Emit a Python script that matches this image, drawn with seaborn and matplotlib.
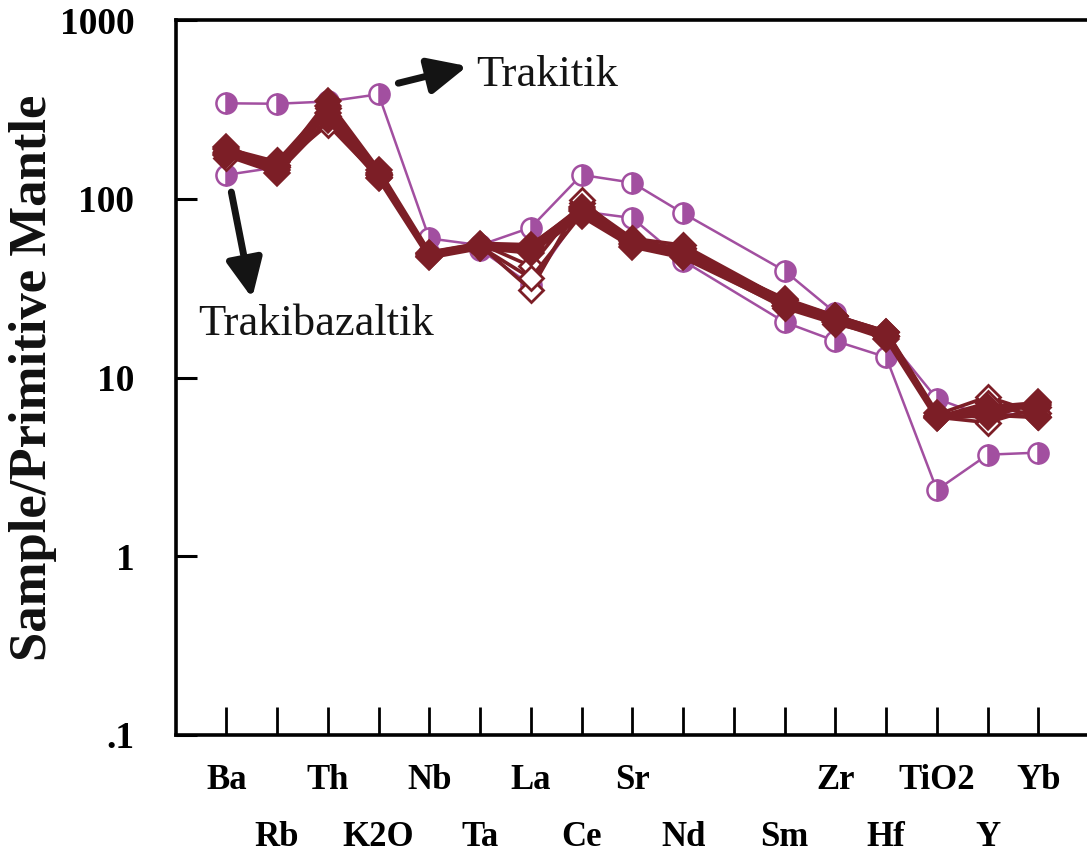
import matplotlib
matplotlib.use("Agg")
import matplotlib.pyplot as plt
import matplotlib.ticker as mticker
import seaborn as sns
import pandas as pd

# ---------------- data ----------------
categories = ["Ba", "Rb", "Th", "K2O", "Nb", "Ta", "La", "Ce", "Sr", "Nd",
              "P", "Sm", "Zr", "Hf", "TiO2", "Y", "Yb"]
tick_labels = ["Ba", "Rb", "Th", "K2O", "Nb", "Ta", "La", "Ce", "Sr", "Nd",
               "", "Sm", "Zr", "Hf", "TiO2", "Y", "Yb"]
measured = ["Ba", "Rb", "Th", "K2O", "Nb", "Ta", "La", "Ce", "Sr", "Nd",
            "Sm", "Zr", "Hf", "TiO2", "Y", "Yb"]

# Trakitik samples (purple, half-filled circles)
trakitik_1 = [342, 340, 350, 384, 60, 55, 69, 136, 123, 83, 39.5, 23, 17, 7.6, 6.0, 6.5]
trakitik_2 = [136, 150, 300, 135, 50, 52, 33, 85, 78, 45, 20.4, 16, 13, 2.35, 3.7, 3.8]

# Trakibazaltik samples (dark red diamonds)
trakibazalt_1 = [190, 160, 330, 140, 49, 55, 54, 90, 58, 52, 27, 22, 18, 6.0, 6.8, 7.2]
trakibazalt_2 = [180, 145, 300, 135, 48, 54, 52, 85, 56, 50, 26, 21, 17, 6.1, 6.5, 7.0]
trakibazalt_3 = [175, 140, 275, 130, 47, 53, 50, 80, 54, 47, 25, 20.5, 16.5, 5.9, 6.2, 6.0]
trakibazalt_4 = [185, 155, 320, 138, 50, 56, 42, 95, 60, 55, 27, 22, 18, 6.2, 7.8, 6.3]
trakibazalt_5 = [178, 150, 260, 132, 48, 55, 31, 98, 57, 53, 26, 21, 17, 6.0, 7.2, 6.0]
trakibazalt_6 = [195, 150, 350, 145, 50, 56, 55, 88, 59, 50, 27.5, 22, 18, 6.3, 6.0, 7.3]
trakibazalt_7 = [170, 165, 290, 136, 49, 54, 36, 82, 55, 48, 24.5, 20, 17, 6.0, 5.6, 6.8]

trakitik = [trakitik_1, trakitik_2]
trakibazalt_filled = [trakibazalt_1, trakibazalt_2, trakibazalt_3, trakibazalt_6]
trakibazalt_open = [trakibazalt_4, trakibazalt_5, trakibazalt_7]

yticks = [0.1, 1, 10, 100, 1000]
ytick_labels = [".1", "1", "10", "100", "1000"]

PURPLE = "#A24FA0"
DARKRED = "#7C1E26"

# ---------------- figure ----------------
sns.set_style("white")
plt.rcParams["font.family"] = ["Liberation Serif", "DejaVu Serif"]

fig = plt.figure(figsize=(10.87, 8.57), dpi=100)
ax = fig.add_axes([176 / 1087, 122 / 857, (1087 - 176) / 1087 + 0.002, (735 - 20) / 857])

xpos = [categories.index(e) for e in measured]


def draw(values, **kw):
    df = pd.DataFrame({"x": xpos, "y": values})
    sns.lineplot(data=df, x="x", y="y", ax=ax, estimator=None, sort=False, **kw)


for vals in trakitik:
    draw(vals, color=PURPLE, lw=1.8, marker="o", markersize=14.5,
         markerfacecolor=PURPLE, markerfacecoloralt="white", fillstyle="right",
         markeredgecolor=PURPLE, markeredgewidth=1.8, zorder=2)

for vals in trakibazalt_open:
    draw(vals, color=DARKRED, lw=2.6, marker="D", markersize=12,
         markerfacecolor="white", markeredgecolor=DARKRED, markeredgewidth=2.0, zorder=3)

for vals in trakibazalt_filled:
    draw(vals, color=DARKRED, lw=3.2, marker="D", markersize=13,
         markerfacecolor=DARKRED, markeredgecolor=DARKRED, markeredgewidth=1.2, zorder=4)

ax.set_yscale("log")
ax.set_ylim(0.1, 1000)
ax.set_xlim(-0.99, 17.0)

ax.yaxis.set_major_locator(mticker.FixedLocator(yticks))
ax.yaxis.set_major_formatter(mticker.FixedFormatter(ytick_labels))
ax.yaxis.set_minor_locator(mticker.NullLocator())

idx = list(range(len(categories)))
ax.set_xticks(idx[0::2], [tick_labels[i] for i in idx[0::2]])
ax.set_xticks(idx[1::2], [tick_labels[i] for i in idx[1::2]], minor=True)

ax.tick_params(axis="y", which="major", direction="in", length=15, width=2.2,
               pad=30, labelsize=27, colors="black", labelcolor="black", left=True, right=False)
ax.tick_params(axis="x", which="both", direction="in", length=20, width=2,
               labelsize=25, colors="black", labelcolor="black", bottom=True, top=False)
ax.tick_params(axis="x", which="major", pad=21)
ax.tick_params(axis="x", which="minor", pad=62)
for lab in ax.get_yticklabels() + ax.get_xticklabels() + ax.get_xticklabels(minor=True):
    lab.set_fontweight("bold")

for side in ["left", "bottom", "top"]:
    ax.spines[side].set_visible(True)
    ax.spines[side].set_color("black")
    ax.spines[side].set_linewidth(2.6)
ax.spines["right"].set_visible(False)

ax.set_xlabel("")
ax.set_ylabel("Sample/Primitive Mantle", fontsize=38, fontweight="bold",
              labelpad=2, color="#111111")

# annotations
arrow_kw = dict(arrowstyle="-|>,head_length=0.9,head_width=0.42", lw=5,
                color="#141414", shrinkA=0, shrinkB=0, mutation_scale=26)
ax.annotate("", xy=(4.75, 552), xytext=(3.39, 443), arrowprops=arrow_kw)
ax.annotate("", xy=(0.51, 27.8), xytext=(0.1, 109), arrowprops=arrow_kw)
ax.text(4.93, 425, "Trakitik", fontsize=32, va="baseline", ha="left", color="#141414")
ax.text(-0.55, 17.2, "Trakibazaltik", fontsize=32, va="baseline", ha="left", color="#141414")

fig.savefig("out.png", dpi=100)
